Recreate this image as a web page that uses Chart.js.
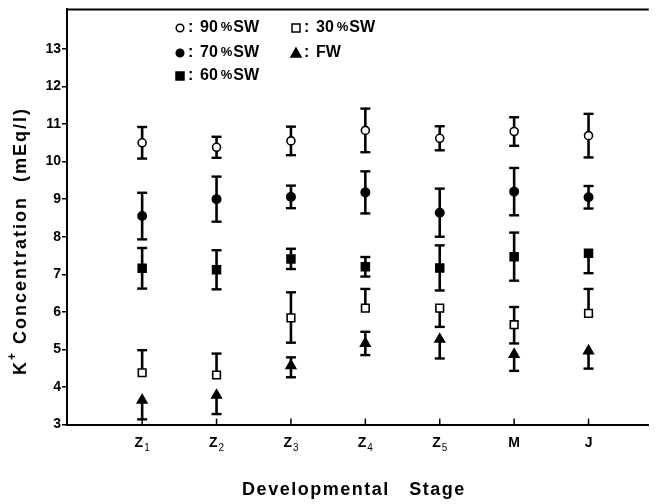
<!DOCTYPE html>
<html>
<head>
<meta charset="utf-8">
<script src="https://cdn.jsdelivr.net/npm/chart.js@4.4.1/dist/chart.umd.min.js"></script>
<style>
  html, body { margin: 0; padding: 0; background: #fff; }
  #wrap { width: 656px; height: 504px; }
</style>
</head>
<body>
<div id="wrap"><canvas id="kChart" width="656" height="504"></canvas></div>
<script>
// Stages on the x axis: letter plus subscript
const stageNames = ['Z', 'Z', 'Z', 'Z', 'Z', 'M', 'J'];
const stageSubs = ['1', '2', '3', '4', '5', '', ''];
const yTicks = [3, 4, 5, 6, 7, 8, 9, 10, 11, 12, 13];

// K+ means (mEq/l) and error bar lengths above / below the mean
const sw90 = [10.5, 10.38, 10.55, 10.83, 10.62, 10.8, 10.69];
const sw90Up = [0.42, 0.28, 0.38, 0.58, 0.32, 0.38, 0.58];
const sw90Down = [0.42, 0.28, 0.38, 0.58, 0.32, 0.38, 0.58];

const sw70 = [8.55, 9.0, 9.06, 9.18, 8.64, 9.2, 9.05];
const sw70Up = [0.62, 0.6, 0.3, 0.56, 0.64, 0.63, 0.3];
const sw70Down = [0.62, 0.6, 0.3, 0.56, 0.64, 0.63, 0.3];

const sw60 = [7.16, 7.12, 7.41, 7.2, 7.17, 7.47, 7.56];
const sw60Up = [0.54, 0.52, 0.27, 0.26, 0.6, 0.64, 0];
const sw60Down = [0.54, 0.52, 0.27, 0.26, 0.6, 0.64, 0.53];

const sw30 = [4.38, 4.32, 5.84, 6.1, 6.1, 5.66, 5.96];
const sw30Up = [0.6, 0.57, 0.68, 0.51, 0, 0.47, 0.65];
const sw30Down = [0, 0, 0.66, 0, 0.5, 0.5, 0];

const fw = [3.65, 3.78, 4.57, 5.16, 5.27, 4.87, 4.96];
const fwUp = [0, 0, 0.22, 0.31, 0, 0, 0];
const fwDown = [0.51, 0.5, 0.31, 0.31, 0.51, 0.44, 0.47];

const FONT = "'Liberation Sans', Arial, sans-serif";

const toPoints = arr => arr.map((v, i) => ({ x: i, y: v }));

function series(label, values, up, down, style, fill, radius) {
  return {
    label: label,
    data: toPoints(values),
    errUp: up,
    errDown: down,
    pointStyle: style,
    pointRadius: radius,
    pointHoverRadius: radius,
    pointBackgroundColor: fill,
    pointBorderColor: '#000',
    pointBorderWidth: 1.6,
    showLine: false
  };
}

// marker shapes for the key
function drawMark(ctx, style, fill, cx, cy) {
  ctx.save();
  ctx.fillStyle = fill;
  ctx.strokeStyle = '#000';
  ctx.lineWidth = 1.5;
  ctx.beginPath();
  if (style === 'circle') {
    ctx.arc(cx, cy, 3.8, 0, Math.PI * 2);
  } else if (style === 'rect') {
    ctx.rect(cx - 4, cy - 4, 8, 8);
  } else {
    ctx.moveTo(cx, cy - 5);
    ctx.lineTo(cx + 5, cy + 4);
    ctx.lineTo(cx - 5, cy + 4);
    ctx.closePath();
  }
  ctx.fill();
  ctx.stroke();
  ctx.restore();
}

function drawKey(ctx, x, y, style, fill, num, name) {
  drawMark(ctx, style, fill, x, y);
  ctx.fillStyle = '#000';
  ctx.textBaseline = 'middle';
  ctx.textAlign = 'left';
  let cx = x + 8;
  ctx.font = 'bold 16px ' + FONT;
  ctx.fillText(':', cx, y);
  cx += 12;
  if (num) {
    ctx.fillText(num, cx, y);
    cx += ctx.measureText(num).width + 3;
    ctx.font = 'bold 13px ' + FONT;
    ctx.fillText('%', cx, y - 1);
    cx += ctx.measureText('%').width + 1;
    ctx.font = 'bold 16px ' + FONT;
  }
  ctx.fillText(name, cx, y);
}

const errorBars = {
  id: 'errorBars',
  beforeDatasetsDraw(chart) {
    const { ctx, scales: { x, y } } = chart;
    ctx.save();
    ctx.strokeStyle = '#000';
    ctx.lineCap = 'butt';
    chart.data.datasets.forEach(ds => {
      ds.data.forEach((p, i) => {
        const px = x.getPixelForValue(p.x);
        const top = y.getPixelForValue(p.y + ds.errUp[i]);
        const bot = y.getPixelForValue(p.y - ds.errDown[i]);
        ctx.lineWidth = 2.6;
        ctx.beginPath();
        ctx.moveTo(px, top);
        ctx.lineTo(px, bot);
        ctx.stroke();
        ctx.lineWidth = 2.4;
        if (ds.errUp[i] > 0) {
          ctx.beginPath();
          ctx.moveTo(px - 5, top);
          ctx.lineTo(px + 5, top);
          ctx.stroke();
        }
        if (ds.errDown[i] > 0) {
          ctx.beginPath();
          ctx.moveTo(px - 5, bot);
          ctx.lineTo(px + 5, bot);
          ctx.stroke();
        }
      });
    });
    ctx.restore();
  },
  afterDraw(chart) {
    const { ctx, chartArea, scales: { x } } = chart;
    ctx.save();
    ctx.strokeStyle = '#000';
    // frame line along the top
    ctx.lineWidth = 2;
    ctx.beginPath();
    ctx.moveTo(chartArea.left, chartArea.top);
    ctx.lineTo(chartArea.right, chartArea.top);
    ctx.stroke();
    // short ticks pointing up from the x axis, stage names below
    ctx.fillStyle = '#000';
    ctx.textBaseline = 'alphabetic';
    stageNames.forEach((name, i) => {
      const px = x.getPixelForValue(i);
      ctx.lineWidth = 1.5;
      ctx.beginPath();
      ctx.moveTo(px, chartArea.bottom);
      ctx.lineTo(px, chartArea.bottom - 6);
      ctx.stroke();
      ctx.font = 'bold 14px ' + FONT;
      const wName = ctx.measureText(name).width;
      ctx.font = '10px ' + FONT;
      const wSub = stageSubs[i] ? ctx.measureText(stageSubs[i]).width + 1 : 0;
      const sx = px - (wName + wSub) / 2;
      ctx.font = 'bold 14px ' + FONT;
      ctx.textAlign = 'left';
      ctx.fillText(name, sx, 447);
      if (stageSubs[i]) {
        ctx.font = '10px ' + FONT;
        ctx.fillText(stageSubs[i], sx + wName + 1, 451);
      }
    });

    // key
    drawKey(ctx, 180, 28, 'circle', '#fff', '90', 'SW');
    drawKey(ctx, 180, 53, 'circle', '#000', '70', 'SW');
    drawKey(ctx, 180, 76, 'rect', '#000', '60', 'SW');
    drawKey(ctx, 296, 28, 'rect', '#fff', '30', 'SW');
    drawKey(ctx, 296, 53, 'triangle', '#000', '', 'FW');

    // axis titles
    ctx.textAlign = 'center';
    ctx.textBaseline = 'middle';
    ctx.font = 'bold 18px ' + FONT;
    ctx.letterSpacing = '1.5px';
    ctx.fillText('Developmental   Stage', (chartArea.left + chartArea.right) / 2 - 4, 490);

    ctx.translate(21, 241);
    ctx.rotate(-Math.PI / 2);
    ctx.textAlign = 'left';
    ctx.letterSpacing = '2px';
    const w1 = ctx.measureText('K').width;
    ctx.font = 'bold 12px ' + FONT;
    const w2 = ctx.measureText('+').width;
    ctx.font = 'bold 18px ' + FONT;
    const rest = ' Concentration  (mEq/l)';
    const w3 = ctx.measureText(rest).width;
    let sx = -(w1 + w2 + w3) / 2;
    ctx.fillText('K', sx, 0);
    sx += w1;
    ctx.font = 'bold 12px ' + FONT;
    ctx.fillText('+', sx, -8);
    sx += w2;
    ctx.font = 'bold 18px ' + FONT;
    ctx.fillText(rest, sx, 0);
    ctx.restore();
  }
};

new Chart(document.getElementById('kChart'), {
  type: 'scatter',
  data: {
    datasets: [
      series('90% SW', sw90, sw90Up, sw90Down, 'circle', '#fff', 4),
      series('70% SW', sw70, sw70Up, sw70Down, 'circle', '#000', 4.2),
      series('60% SW', sw60, sw60Up, sw60Down, 'rect', '#000', 5.6),
      series('30% SW', sw30, sw30Up, sw30Down, 'rect', '#fff', 5.4),
      series('FW', fw, fwUp, fwDown, 'triangle', '#000', 5.5)
    ]
  },
  options: {
    responsive: false,
    animation: false,
    layout: { padding: { top: 8, left: 0, right: 0, bottom: 0 } },
    plugins: {
      legend: { display: false },
      tooltip: { enabled: false }
    },
    scales: {
      x: {
        type: 'linear',
        min: -1.01,
        max: 6.81,
        afterBuildTicks: s => { s.ticks = stageNames.map((_, i) => ({ value: i })); },
        afterFit: s => { s.height = 79.4; },
        grid: { display: false },
        border: { display: true, color: '#000', width: 2 },
        ticks: { display: false }
      },
      y: {
        type: 'linear',
        min: 3,
        max: 14.05,
        afterBuildTicks: s => { s.ticks = yTicks.map(v => ({ value: v })); },
        afterFit: s => { s.width = 67; },
        grid: { drawOnChartArea: false, drawTicks: true, tickLength: 5, color: '#000', lineWidth: 1.5 },
        border: { display: true, color: '#000', width: 2 },
        ticks: {
          color: '#000',
          padding: 1,
          font: { family: FONT, weight: 'bold', size: 14 }
        }
      }
    }
  },
  plugins: [errorBars]
});
</script>
</body>
</html>
